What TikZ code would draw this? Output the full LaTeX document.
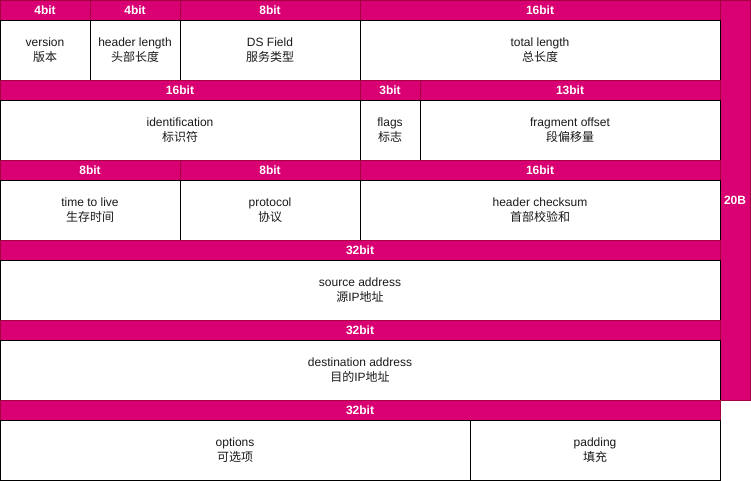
\documentclass[tikz,border=0pt]{standalone}
\usepackage{fontspec}
\setmainfont{Liberation Sans}
\newfontfamily\cjk{Noto Sans CJK SC}
\definecolor{hdrfill}{HTML}{D80073}
\definecolor{hdrline}{HTML}{A50040}
\definecolor{txt}{HTML}{1A1A1A}
\begin{document}
\begin{tikzpicture}[x=1pt,y=-1pt,
  hdr/.style={draw=hdrline,fill=hdrfill,text=white,font=\bfseries\fontsize{12}{14}\selectfont,
    anchor=north west,inner sep=0pt,outer sep=0pt,line width=0.8pt},
  cell/.style={draw=black,fill=white,text=txt,font=\fontsize{12}{15}\selectfont,align=center,
    anchor=north west,inner sep=0pt,outer sep=0pt,line width=0.8pt,text depth=0pt},
]
\useasboundingbox (0,0) rectangle (751,481);
% side column
\node[hdr,minimum width=30pt,minimum height=400pt] (side) at (720,0) {20B};
% row 1
\node[hdr,minimum width=90pt,minimum height=20pt] (h11) at (0,0) {4bit};
\node[hdr,minimum width=90pt,minimum height=20pt] (h12) at (90,0) {4bit};
\node[hdr,minimum width=180pt,minimum height=20pt] (h13) at (180,0) {8bit};
\node[hdr,minimum width=360pt,minimum height=20pt] (h14) at (360,0) {16bit};
\node[cell,minimum width=90pt,minimum height=60pt] (c11) at (0,20) {version\\{\cjk 版本}};
\node[cell,minimum width=90pt,minimum height=60pt] (c12) at (90,20) {header length\\{\cjk 头部长度}};
\node[cell,minimum width=180pt,minimum height=60pt] (c13) at (180,20) {DS Field\\{\cjk 服务类型}};
\node[cell,minimum width=360pt,minimum height=60pt] (c14) at (360,20) {total length\\{\cjk 总长度}};
% row 2
\node[hdr,minimum width=360pt,minimum height=20pt] (h21) at (0,80) {16bit};
\node[hdr,minimum width=60pt,minimum height=20pt] (h22) at (360,80) {3bit};
\node[hdr,minimum width=300pt,minimum height=20pt] (h23) at (420,80) {13bit};
\node[cell,minimum width=360pt,minimum height=60pt] (c21) at (0,100) {identification\\{\cjk 标识符}};
\node[cell,minimum width=60pt,minimum height=60pt] (c22) at (360,100) {flags\\{\cjk 标志}};
\node[cell,minimum width=300pt,minimum height=60pt] (c23) at (420,100) {fragment offset\\{\cjk 段偏移量}};
% row 3
\node[hdr,minimum width=180pt,minimum height=20pt] (h31) at (0,160) {8bit};
\node[hdr,minimum width=180pt,minimum height=20pt] (h32) at (180,160) {8bit};
\node[hdr,minimum width=360pt,minimum height=20pt] (h33) at (360,160) {16bit};
\node[cell,minimum width=180pt,minimum height=60pt] (c31) at (0,180) {time to live\\{\cjk 生存时间}};
\node[cell,minimum width=180pt,minimum height=60pt] (c32) at (180,180) {protocol\\{\cjk 协议}};
\node[cell,minimum width=360pt,minimum height=60pt] (c33) at (360,180) {header checksum\\{\cjk 首部校验和}};
% row 4
\node[hdr,minimum width=720pt,minimum height=20pt] (h41) at (0,240) {32bit};
\node[cell,minimum width=720pt,minimum height=60pt] (c41) at (0,260) {source address\\{\cjk 源}IP{\cjk 地址}};
% row 5
\node[hdr,minimum width=720pt,minimum height=20pt] (h51) at (0,320) {32bit};
\node[cell,minimum width=720pt,minimum height=60pt] (c51) at (0,340) {destination address\\{\cjk 目的}IP{\cjk 地址}};
% row 6
\node[hdr,minimum width=720pt,minimum height=20pt] (h61) at (0,400) {32bit};
\node[cell,minimum width=470pt,minimum height=60pt] (c61) at (0,420) {options\\{\cjk 可选项}};
\node[cell,minimum width=250pt,minimum height=60pt] (c62) at (470,420) {padding\\{\cjk 填充}};
\end{tikzpicture}
\end{document}
